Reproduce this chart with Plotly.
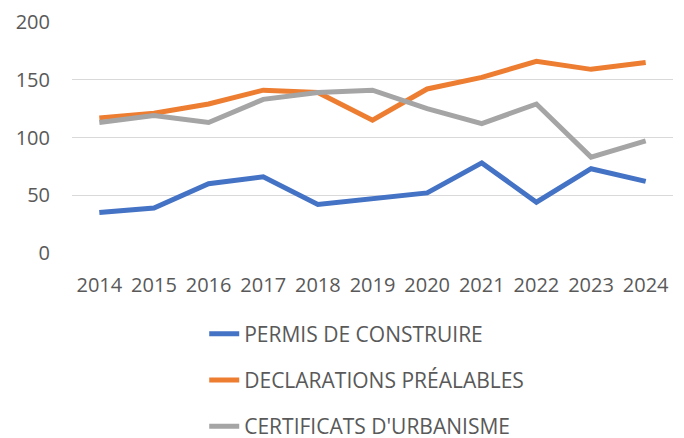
import plotly.graph_objects as go

years = ["2014", "2015", "2016", "2017", "2018", "2019", "2020", "2021", "2022", "2023", "2024"]
permis = [35, 39, 60, 66, 42, 47, 52, 78, 44, 73, 62]
declarations = [117, 121, 129, 141, 139, 115, 142, 152, 166, 159, 165]
certificats = [113, 119, 113, 133, 139, 141, 125, 112, 129, 83, 97]

names = ["PERMIS DE CONSTRUIRE", "DECLARATIONS PRÉALABLES", "CERTIFICATS D'URBANISME"]
colors = ["#4472C4", "#ED7D31", "#A5A5A5"]
series = [permis, declarations, certificats]

fig = go.Figure()
for n, c, s in zip(names, colors, series):
    fig.add_trace(go.Scatter(x=years, y=s, mode="lines", name=n, legendgroup=n,
                             line=dict(color=c, width=5)))

font = dict(family="Open Sans, Lato, sans-serif", size=20, color="#595959")
legend_font = dict(family="Open Sans, Lato, sans-serif", size=21, color="#595959")
fig.update_layout(
    width=676, height=430,
    margin=dict(l=64, r=11, t=14, b=185, autoexpand=False),
    paper_bgcolor="white", plot_bgcolor="white",
    font=font,
    showlegend=True,
    legend=dict(orientation="v", x=0.220, xanchor="left", y=-0.262, yanchor="top",
                tracegroupgap=16, font=legend_font, bgcolor="rgba(0,0,0,0)"),
    xaxis=dict(type="category", showgrid=False, showline=False, zeroline=False,
               ticks="outside", ticklen=14, tickcolor="rgba(0,0,0,0)",
               range=[-0.5, 10.5], automargin=False),
    yaxis=dict(range=[0, 200], dtick=50, showgrid=True, gridcolor="#D9D9D9", gridwidth=1,
               zeroline=False, showline=False, ticks="outside", ticklen=17,
               tickcolor="rgba(0,0,0,0)", automargin=False),
)
fig.write_html("out.html")
